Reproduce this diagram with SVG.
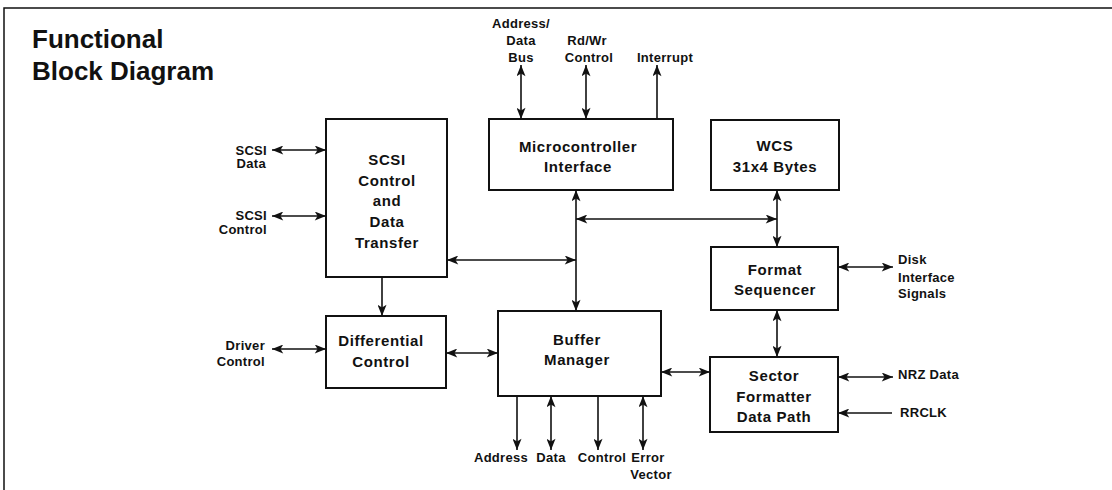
<svg xmlns="http://www.w3.org/2000/svg" width="1112" height="490" viewBox="0 0 1112 490">
<style>
.box{fill:#fff;stroke:#111;stroke-width:2}
.lbl{font-family:"Liberation Sans",Arial,sans-serif;font-weight:bold;font-size:15px;letter-spacing:0.6px;fill:#111;text-anchor:middle}
.sm{font-family:"Liberation Sans",Arial,sans-serif;font-weight:bold;font-size:13px;letter-spacing:0.3px;fill:#111}
.title{font-family:"Liberation Sans",Arial,sans-serif;font-weight:bold;font-size:26px;fill:#111}
.c{fill:none;stroke:#111;stroke-width:1.6}
.e{marker-end:url(#ah)}
.s{marker-start:url(#ah)}
</style>
<defs>
<marker id="ah" viewBox="0 0 10 8" refX="10" refY="4" markerWidth="12" markerHeight="9" markerUnits="userSpaceOnUse" orient="auto-start-reverse">
<path d="M0,0 L10,4 L0,8 L2.5,4 z" fill="#111"/>
</marker>
</defs>
<rect width="1112" height="490" fill="#fff"/>
<g id="frame">
<path d="M4,490 V8 H1112" fill="none" stroke="#111" stroke-width="1.5"/>
</g>
<g id="title">
<text class="title" x="32" y="48">Functional</text>
<text class="title" x="32" y="80">Block Diagram</text>
</g>
<g id="scsi">
<rect class="box" x="326" y="119" width="121" height="158"/>
<text class="lbl" x="387" y="165">SCSI</text>
<text class="lbl" x="387" y="186">Control</text>
<text class="lbl" x="387" y="206">and</text>
<text class="lbl" x="387" y="227">Data</text>
<text class="lbl" x="387" y="248">Transfer</text>
</g>
<g id="mcu">
<rect class="box" x="489" y="119" width="184" height="71"/>
<text class="lbl" x="578" y="152">Microcontroller</text>
<text class="lbl" x="578" y="172">Interface</text>
</g>
<g id="wcs">
<rect class="box" x="711" y="120" width="128" height="70"/>
<text class="lbl" x="775" y="151">WCS</text>
<text class="lbl" x="775" y="172">31x4 Bytes</text>
</g>
<g id="fmtseq">
<rect class="box" x="711" y="247" width="127" height="63"/>
<text class="lbl" x="775" y="275">Format</text>
<text class="lbl" x="775" y="295">Sequencer</text>
</g>
<g id="sector">
<rect class="box" x="710" y="357" width="128" height="75"/>
<text class="lbl" x="774" y="381">Sector</text>
<text class="lbl" x="774" y="402">Formatter</text>
<text class="lbl" x="774" y="422">Data Path</text>
</g>
<g id="diff">
<rect class="box" x="326" y="316" width="120" height="72"/>
<text class="lbl" x="381" y="346">Differential</text>
<text class="lbl" x="381" y="367">Control</text>
</g>
<g id="buffer">
<rect class="box" x="498" y="311" width="163" height="85"/>
<text class="lbl" x="577" y="345">Buffer</text>
<text class="lbl" x="577" y="365">Manager</text>
</g>
<g id="labels">
<text class="sm" text-anchor="middle" x="521" y="28">Address/</text>
<text class="sm" text-anchor="middle" x="521" y="45">Data</text>
<text class="sm" text-anchor="middle" x="521" y="62">Bus</text>
<text class="sm" text-anchor="middle" x="587" y="45">Rd/Wr</text>
<text class="sm" text-anchor="middle" x="589" y="62">Control</text>
<text class="sm" text-anchor="middle" x="665" y="62">Interrupt</text>
<text class="sm" text-anchor="end" x="267" y="155">SCSI</text>
<text class="sm" text-anchor="end" x="266" y="168">Data</text>
<text class="sm" text-anchor="end" x="267" y="220">SCSI</text>
<text class="sm" text-anchor="end" x="267" y="234">Control</text>
<text class="sm" text-anchor="end" x="265" y="350">Driver</text>
<text class="sm" text-anchor="end" x="265" y="366">Control</text>
<text class="sm" x="898" y="264">Disk</text>
<text class="sm" x="898" y="282">Interface</text>
<text class="sm" x="898" y="298">Signals</text>
<text class="sm" x="898" y="379">NRZ Data</text>
<text class="sm" x="900" y="417">RRCLK</text>
<text class="sm" text-anchor="middle" x="501" y="462">Address</text>
<text class="sm" text-anchor="middle" x="551" y="462">Data</text>
<text class="sm" text-anchor="middle" x="602" y="462">Control</text>
<text class="sm" text-anchor="middle" x="648" y="462">Error</text>
<text class="sm" text-anchor="middle" x="651" y="479">Vector</text>
</g>
<g id="connectors">
<line class="c s e" x1="521" y1="65" x2="521" y2="119"/>
<line class="c s e" x1="586" y1="65" x2="586" y2="119"/>
<line class="c e" x1="657" y1="119" x2="657" y2="65"/>
<line class="c s e" x1="272" y1="150" x2="326" y2="150"/>
<line class="c s e" x1="272" y1="216" x2="326" y2="216"/>
<line class="c s e" x1="576" y1="190" x2="576" y2="311"/>
<line class="c s e" x1="447" y1="260" x2="576" y2="260"/>
<line class="c s e" x1="576" y1="219" x2="777" y2="219"/>
<line class="c s e" x1="777" y1="190" x2="777" y2="247"/>
<line class="c s e" x1="838" y1="267" x2="893" y2="267"/>
<line class="c s e" x1="777" y1="310" x2="777" y2="357"/>
<line class="c e" x1="382" y1="277" x2="382" y2="316"/>
<line class="c s e" x1="272" y1="349" x2="326" y2="349"/>
<line class="c s e" x1="446" y1="353" x2="498" y2="353"/>
<line class="c s e" x1="661" y1="372" x2="710" y2="372"/>
<line class="c s e" x1="838" y1="377" x2="893" y2="377"/>
<line class="c e" x1="892" y1="413" x2="838" y2="413"/>
<line class="c e" x1="517" y1="396" x2="517" y2="450"/>
<line class="c s e" x1="551" y1="396" x2="551" y2="450"/>
<line class="c e" x1="598" y1="396" x2="598" y2="450"/>
<line class="c s e" x1="643" y1="396" x2="643" y2="450"/>
</g>
</svg>
